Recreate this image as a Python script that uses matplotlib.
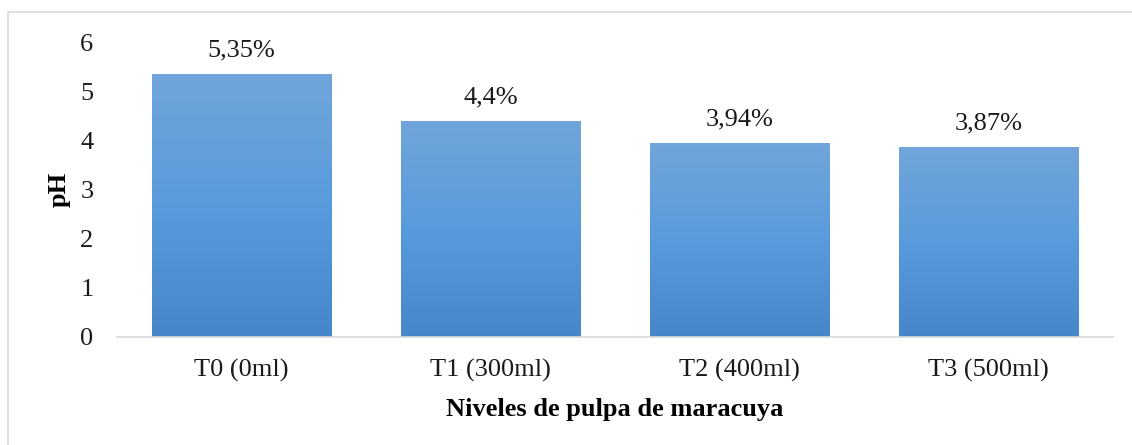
import matplotlib
matplotlib.use('Agg')
import matplotlib.pyplot as plt
import numpy as np
from matplotlib.colors import LinearSegmentedColormap
from matplotlib.patches import Rectangle

# Data
categorias = ['T0 (0ml)', 'T1 (300ml)', 'T2 (400ml)', 'T3 (500ml)']
ph = [5.35, 4.4, 3.94, 3.87]
etiquetas = ['5,35%', '4,4%', '3,94%', '3,87%']

plt.rcParams['font.family'] = ['Liberation Serif', 'DejaVu Serif']
plt.rcParams['font.size'] = 19

fig = plt.figure(figsize=(11.32, 4.45), dpi=100)
ax = fig.add_axes([0.1034, 0.2427, 0.8798, 0.6629])

# gradient like the office chart (light at top, darker at bottom)
cmap = LinearSegmentedColormap.from_list('grad', ['#4587c8', '#589bdc', '#71a5da'])
grad = np.linspace(0, 1, 256).reshape(-1, 1)

x = np.arange(len(categorias))
width = 0.72
bars = ax.bar(x, ph, width=width, color='none', edgecolor='none')
for b in bars:
    x0, y0 = b.get_x(), b.get_y()
    w, h = b.get_width(), b.get_height()
    im = ax.imshow(grad, cmap=cmap, origin='lower', aspect='auto',
                   extent=[x0, x0 + w, y0, y0 + h], zorder=2)
    im.set_clip_path(b)

for xi, v, t in zip(x, ph, etiquetas):
    ax.annotate(t, (xi, v), xytext=(0, 9), textcoords='offset points',
                ha='center', va='bottom', color='#1a1a1a', fontsize=19)

ax.set_xlim(-0.5, len(categorias) - 0.5)
ax.set_ylim(0, 6)
ax.set_yticks(range(0, 7))
ax.set_xticks(x)
ax.set_xticklabels(categorias)
ax.tick_params(length=0, colors='#1a1a1a', labelsize=19)
ax.tick_params(axis='y', pad=17)
ax.tick_params(axis='x', pad=16)

for s in ['top', 'right', 'left']:
    ax.spines[s].set_visible(False)
ax.spines['bottom'].set_color('#d9d9d9')
ax.spines['bottom'].set_linewidth(1.2)
ax.spines['bottom'].set_zorder(3)

ax.set_xlabel('Niveles de pulpa de maracuya', fontweight='bold', fontsize=19, labelpad=11)
ax.set_ylabel('pH', fontweight='bold', fontsize=19, labelpad=7)

# outer frame of the chart area
fig.patches.append(Rectangle((8 / 1132, -0.01), 1.1, 1 - 12 / 445 + 0.01,
                             transform=fig.transFigure, fill=False,
                             edgecolor='#d9d9d9', linewidth=1.2))

fig.savefig('out.png', dpi=100)
